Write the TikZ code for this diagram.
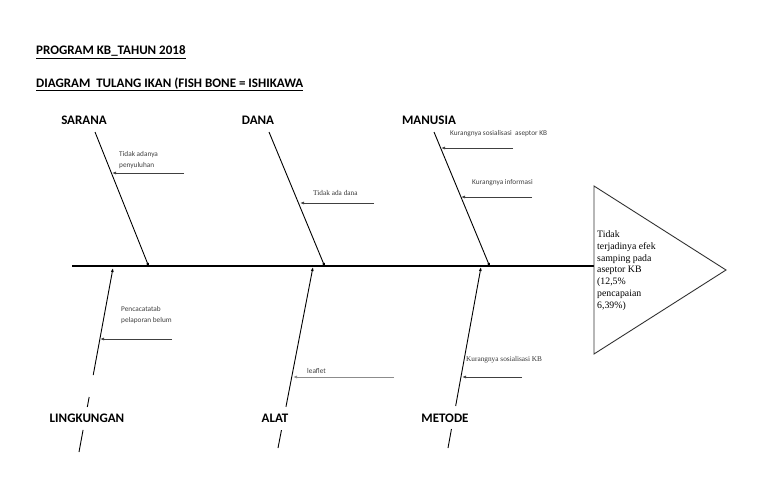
\documentclass[tikz,border=0pt]{standalone}
\usepackage{fontspec}
\setmainfont{Carlito}
\newfontfamily\timesfont{Liberation Serif}
\usetikzlibrary{arrows.meta,calc}

\begin{document}
\begin{tikzpicture}[x=1pt,y=-1pt,
		title/.style={anchor=base west, inner sep=0pt, font=\fontsize{13}{15}\selectfont\bfseries},
		bonelabel/.style={inner sep=0pt, font=\fontsize{13}{15}\selectfont\bfseries},
		causenote/.style={anchor=base west, inner sep=0pt, align=left, font=\fontsize{7.3}{10.5}\selectfont, text=black!75},
		causetimes/.style={anchor=base west, inner sep=0pt, font=\fontsize{7.3}{9}\selectfont\timesfont, text=black!80},
		bone/.style={line width=0.9pt, -{Latex[length=4pt,width=3pt]}},
		stub/.style={line width=0.9pt},
		cause/.style={line width=0.9pt, black!75, -{Latex[length=4pt,width=3pt]}},
		]
		\useasboundingbox (0,0) rectangle (768,503);
		%Titles
		\node[title]      (judul)   at (36,55)   {\underline{PROGRAM KB\_TAHUN 2018}};
		\node[title]      (judul2)  at (36,87)   {\underline{DIAGRAM\ \ TULANG IKAN (FISH BONE = ISHIKAWA}};

		%Spine and head
		\coordinate (spine0) at (72,266);
		\coordinate (head)   at (594,266);
		\coordinate (htop)   at (594,186);
		\coordinate (htip)   at (726,270);
		\coordinate (hbot)   at (594,354);
		\draw[line width=1.8pt] (spine0) -- (head);
		\draw[line width=0.9pt, black!80] (htop) -- (htip) -- (hbot) -- cycle;
		% base of a multi-line node = last line
		\node[anchor=base west, inner sep=0pt, align=left, font=\fontsize{9.8}{11.7}\selectfont\timesfont]
			(akibat) at (597,308) {Tidak\\terjadinya efek\\samping pada\\aseptor KB\\(12,5\%\\pencapaian\\6,39\%)};

		%Upper bones
		\node[bonelabel]  (sarana)  at (84,120)  {SARANA};
		\node[bonelabel]  (dana)    at (258,120) {DANA};
		\node[bonelabel]  (manusia) at (429,120) {MANUSIA};
		\coordinate (st) at (95,132);   \coordinate (se) at (149,267);
		\coordinate (dt) at (269,132);  \coordinate (de) at (325,267);
		\coordinate (mt) at (434,132);  \coordinate (me) at (490,267);
		\draw[bone] (st) -- (se);
		\draw[bone] (dt) -- (de);
		\draw[bone] (mt) -- (me);

		%Lower bones
		\node[bonelabel]  (lingkungan) at (87,418)  {LINGKUNGAN};
		\node[bonelabel]  (alat)       at (275,418) {ALAT};
		\node[bonelabel]  (metode)     at (445,418) {METODE};
		\coordinate (lb) at (79,452);   \coordinate (le) at (113,268);
		\coordinate (ab) at (278,448);  \coordinate (ae) at (313,267);
		\coordinate (tb) at (448,448);  \coordinate (te) at (481,267);
		\draw[bone] ($(lb)!0.418!(le)$) -- (le);
		\draw[stub] ($(lb)!0.245!(le)$) -- ($(lb)!0.299!(le)$);
		\draw[stub] (lb) -- ($(lb)!0.120!(le)$);
		\draw[bone] ($(ab)!0.227!(ae)$) -- (ae);
		\draw[stub] (ab) -- ($(ab)!0.099!(ae)$);
		\draw[bone] ($(tb)!0.232!(te)$) -- (te);
		\draw[stub] (tb) -- ($(tb)!0.105!(te)$);

		%Causes
		\coordinate (c1) at (184,173);  \coordinate (c1e) at (112,173);
		\coordinate (c2) at (374,203);  \coordinate (c2e) at (300,203);
		\coordinate (c3) at (513,148);  \coordinate (c3e) at (441,148);
		\coordinate (c4) at (532,197);  \coordinate (c4e) at (461,197);
		\coordinate (c5) at (172,339);  \coordinate (c5e) at (100,339);
		\coordinate (c6) at (394,377);  \coordinate (c6e) at (293,377);
		\coordinate (c7) at (522,377);  \coordinate (c7e) at (462,377);
		\draw[cause] (c1) -- (c1e);
		\draw[cause] (c2) -- (c2e);
		\draw[cause] (c3) -- (c3e);
		\draw[cause] (c4) -- (c4e);
		\draw[cause] (c5) -- (c5e);
		\draw[cause, black!45] (c6) -- (c6e);
		\draw[cause] (c7) -- (c7e);
		\node[causenote]  (n1) at (119,167) {Tidak adanya\\penyuluhan};
		\node[causetimes] (n2) at (313,195) {Tidak ada dana};
		\node[causenote]  (n3) at (450,135) {Kurangnya sosialisasi\ \ aseptor KB};
		\node[causenote]  (n4) at (472,184) {Kurangnya informasi};
		\node[causenote]  (n5) at (121,322) {Pencacatatab\\pelaporan belum};
		\node[causenote]  (n6) at (307,373) {leaflet};
		\node[causetimes] (n7) at (466,361) {Kurangnya sosialisasi KB};
\end{tikzpicture}
\end{document}
